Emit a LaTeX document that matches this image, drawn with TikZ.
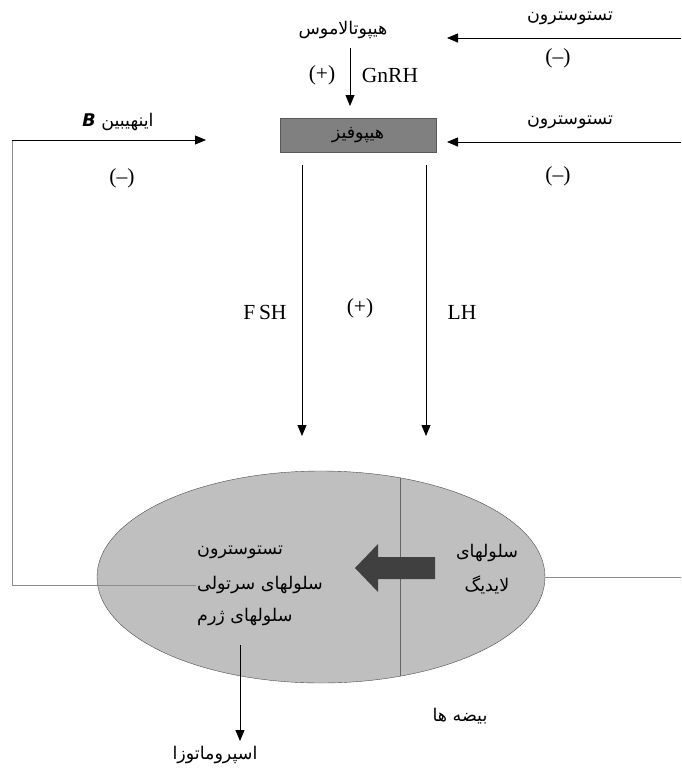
\documentclass[tikz,border=0pt]{standalone}
\usepackage{fontspec}
\setmainfont{Liberation Serif}
\newfontfamily\arabicfont[Script=Arabic]{DejaVu Sans}
\TeXXeTstate=1
\usetikzlibrary{arrows.meta,shapes.geometric}
\newcommand{\fatxt}[1]{\beginR #1\endR}

\begin{document}
\begin{tikzpicture}[x=1pt, y=-1pt,
  fa/.style={font=\fontsize{17.5}{20}\arabicfont, inner sep=1pt},
  lat/.style={font=\fontsize{21.5}{24}\selectfont, inner sep=1pt},
  flow/.style={draw=black!45, line width=0.8pt, -{Triangle[length=11pt,width=9pt]}, black},
  ln/.style={draw=black!45, line width=0.8pt}]
\useasboundingbox (0,0) rectangle (681,771);
% top
\node[fa] (hth) at (343,30) {\fatxt{هیپوتالاموس}};
\node[draw=black!65, fill=black!50, minimum width=156pt, minimum height=34pt,
  fa] (hyp) at (358,135) {\fatxt{هیپوفیز}};
\coordinate (gtop) at (350,48);
\coordinate (gend) at (350,106);
\draw[flow] (gtop) -- (gend);
\node[lat] (gp) at (322,75) {(+)};
\node[lat] (gn) at (390,75) {GnRH};
% testosterone feedback (right)
\node[fa] (ta) at (570,18) {\fatxt{تستوسترون}};
\coordinate (tar) at (681,38);
\coordinate (tae) at (447,38);
\draw[flow] (tar) -- (tae);
\node[lat] (na) at (558,58) {(--)};
\node[fa] (tb) at (570,122) {\fatxt{تستوسترون}};
\coordinate (tbr) at (681,142);
\coordinate (tbe) at (447,142);
\draw[flow] (tbr) -- (tbe);
\node[lat] (nb) at (558,176) {(--)};
% inhibin (left)
\node[fa] (inh) at (118,122) {\fatxt{اینهیبین \beginL\textbf{\textit{B}}\endL}};
\node[lat] (nc) at (122,178) {(--)};
% FSH / LH
\coordinate (fs) at (302,165);
\coordinate (fe) at (302,436);
\coordinate (ls) at (426,165);
\coordinate (le) at (426,436);
\draw[flow] (fs) -- (fe);
\draw[flow] (ls) -- (le);
\node[lat] (fsh) at (265,312) {F\,SH};
\node[lat] (gp2) at (360,308) {(+)};
\node[lat] (lh) at (462,312) {LH};
% testes
\node[ellipse, draw=black!70, fill=black!25, minimum width=448pt,
  minimum height=212pt, inner sep=0pt] (tes) at (321,577) {};
\draw[ln, draw=black!60] (400,478) -- (400,676);
\fill[black!75] (435,557) -- (378,557) -- (378,544) -- (355,568)
  -- (378,592) -- (378,579) -- (435,579) -- cycle;
\node[fa, anchor=west] (tst) at (196,552) {\fatxt{تستوسترون}};
\node[fa, anchor=west] (srt) at (196,585) {\fatxt{سلولهای سرتولی}};
\node[fa, anchor=west] (grm) at (196,617) {\fatxt{سلولهای ژرم}};
\node[fa] (ley) at (487,553) {\fatxt{سلولهای}};
\node[fa] (ley2) at (487,585) {\fatxt{لایدیگ}};
\coordinate (rr) at (681,577);
\draw[ln] (tes.east) -- (rr);
% feedback line
\coordinate (fbt) at (12,140);
\coordinate (fbe) at (206,140);
\draw[ln] (srt.west) -| (fbt);
\draw[flow] (fbt) -- (fbe);
% output
\coordinate (ss) at (240,645);
\coordinate (se) at (240,741);
\draw[flow] (ss) -- (se);
\node[fa] (spm) at (215,755) {\fatxt{اسپروماتوزا}};
\node[fa] (bz) at (460,716) {\fatxt{بیضه ها}};
\end{tikzpicture}
\end{document}
